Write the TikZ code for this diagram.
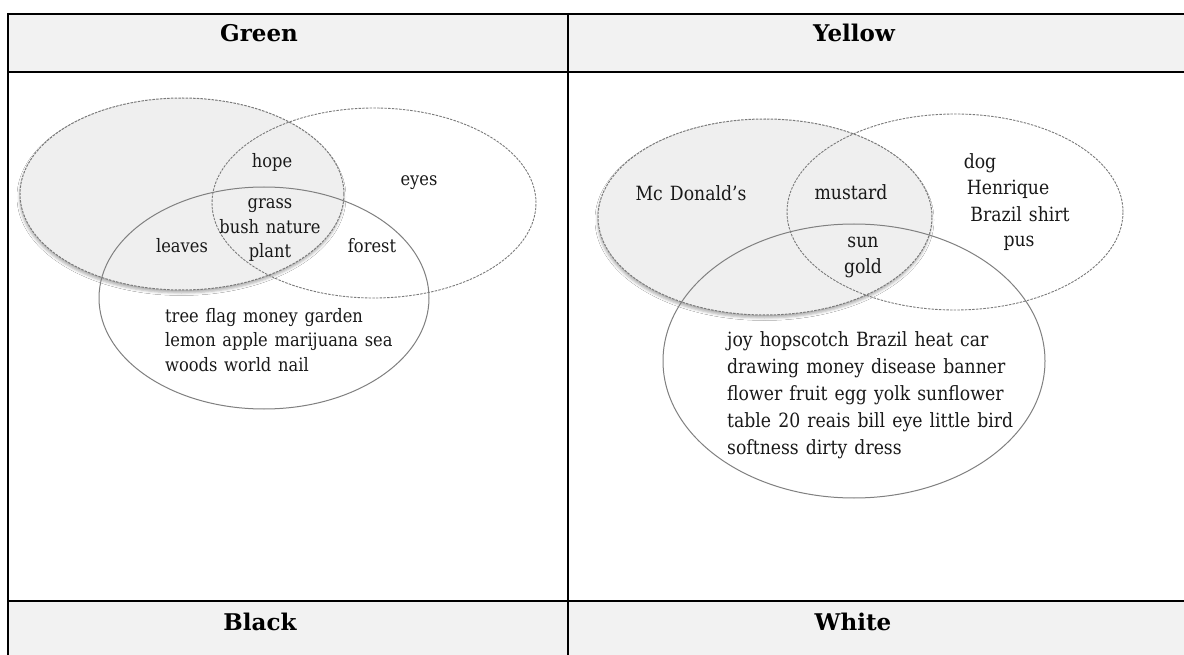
\documentclass[tikz,border=0pt]{standalone}
\usepackage{fontspec}
\setmainfont{DejaVu Serif}
\newfontfamily\vennfont[WordSpace=1.3,FakeStretch=0.88]{DejaVu Serif}
\usetikzlibrary{shadows.blur}
\definecolor{hdr}{HTML}{F2F2F2}
\definecolor{venngray}{HTML}{EFEFEF}
\definecolor{dashline}{HTML}{7A7A7A}
\definecolor{solidline}{HTML}{808080}
\tikzset{
  tbl/.style={line width=2pt, black},
  hdrtext/.style={anchor=base, inner sep=0pt, font=\fontsize{23}{27}\selectfont\bfseries},
  vennA/.style={fill=venngray, draw=dashline, line width=1pt, dash pattern=on 2.5pt off 1.2pt,
    blur shadow={shadow xshift=-0.5pt, shadow yshift=-3pt, shadow blur radius=2.5pt, shadow opacity=30}},
  vennB/.style={draw=dashline, line width=0.9pt, dash pattern=on 2.5pt off 1.2pt},
  vennC/.style={draw=solidline, line width=1pt},
  lbl/.style={inner sep=0pt, text=black!90, font=\vennfont\fontsize{18.5}{24.5}\selectfont},
  rlbl/.style={inner sep=0pt, text=black!90, font=\vennfont\fontsize{19.6}{26.8}\selectfont},
}
\begin{document}
\begin{tikzpicture}[x=1pt,y=-1pt]
\useasboundingbox (0,0) rectangle (1184,655);
\fill[white] (0,0) rectangle (1184,655);
% table
\fill[hdr] (8,14) rectangle (1184,72);
\fill[hdr] (8,601) rectangle (1184,655);
\draw[tbl] (7,14) -- (1184,14);
\draw[tbl] (7,72) -- (1184,72);
\draw[tbl] (7,601) -- (1184,601);
\draw[tbl] (8,13) -- (8,655);
\draw[tbl] (568,13) -- (568,655);
\node[hdrtext] (green) at (259,42) {Green};
\node[hdrtext] (yellow) at (854,42) {Yellow};
\node[hdrtext] (black) at (260,630) {Black};
\node[hdrtext] (white) at (853,630) {White};
% left Venn
\path[vennA] (182,194) ellipse [x radius=162pt, y radius=96pt];
\path[vennB] (374,203) ellipse [x radius=162pt, y radius=95pt];
\path[vennC] (264,298) ellipse [x radius=165pt, y radius=111pt];
\node[lbl, anchor=base] (hope) at (272,168) {hope};
\node[lbl, anchor=base] (eyes) at (419,186) {eyes};
\node[lbl, anchor=base, align=center] (grass) at (270,258) {grass\\bush nature\\plant};
\node[lbl, anchor=base] (leaves) at (182,253) {leaves};
\node[lbl, anchor=base] (forest) at (372,253) {forest};
\node[lbl, anchor=base west, align=left] (tree) at (165,371) {tree flag money garden\\lemon apple marijuana sea\\woods world nail};
% right Venn
\path[vennA] (765,217) ellipse [x radius=167pt, y radius=98pt];
\path[vennB] (955,212) ellipse [x radius=168pt, y radius=98pt];
\path[vennC] (854,361) ellipse [x radius=191pt, y radius=137pt];
\node[rlbl, anchor=base] (mcd) at (691,201) {Mc Donald’s};
\node[rlbl, anchor=base] (mustard) at (851,200) {mustard};
\node[rlbl, anchor=base] (dog) at (980,169) {dog};
\node[rlbl, anchor=base] (henrique) at (1008,195) {Henrique};
\node[rlbl, anchor=base] (shirt) at (1020,222) {Brazil shirt};
\node[rlbl, anchor=base] (pus) at (1019,247) {pus};
\node[rlbl, anchor=base, align=center, font=\vennfont\fontsize{19.6}{25}\selectfont] (sun) at (863,273) {sun\\gold};
\node[rlbl, anchor=base west, align=left] (joy) at (727,454) {joy hopscotch Brazil heat car\\drawing money disease banner\\flower fruit egg yolk sunflower\\table 20 reais bill eye little bird\\softness dirty dress};
\end{tikzpicture}
\end{document}
